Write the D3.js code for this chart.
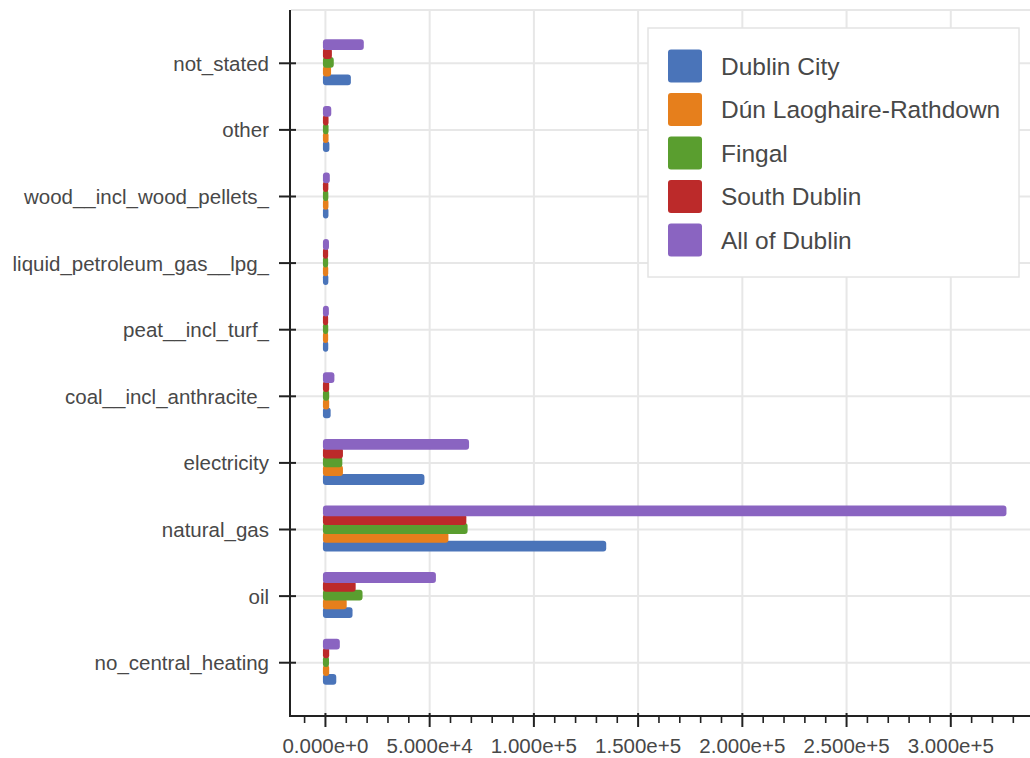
<!DOCTYPE html>
<html>
<head>
<meta charset="utf-8">
<script src="https://cdn.jsdelivr.net/npm/d3@7"></script>
<style>
  html, body { margin: 0; padding: 0; background: #fff; }
  svg { display: block; font-family: "Liberation Sans", Arial, Helvetica, sans-serif; }
</style>
</head>
<body>
<svg id="chart" width="1030" height="758"></svg>
<script>
// ---- data (categories listed bottom to top) ----
const categories = [
  "no_central_heating", "oil", "natural_gas", "electricity",
  "coal__incl_anthracite_", "peat__incl_turf_", "liquid_petroleum_gas__lpg_",
  "wood__incl_wood_pellets_", "other", "not_stated"
];
const seriesNames = ["Dublin City", "Dún Laoghaire-Rathdown", "Fingal", "South Dublin", "All of Dublin"];
const dublinCity   = [4000, 11800, 133500, 46300, 1300, 150, 200, 250, 700, 11000];
const dunLaoghaire = [600, 9000, 57800, 7200, 600, 100, 150, 250, 300, 1500];
const fingal       = [500, 16600, 67000, 6900, 600, 150, 100, 200, 300, 2800];
const southDublin  = [600, 13300, 66400, 7200, 600, 100, 100, 200, 300, 1900];
const allOfDublin  = [5700, 51800, 325500, 67700, 3100, 450, 500, 900, 1600, 17200];
const seriesValues = [dublinCity, dunLaoghaire, fingal, southDublin, allOfDublin];
const colors = ["#4a74b9", "#e67f1c", "#5a9e2f", "#bc2a2a", "#8a64c1"];
const majorTicks = [0, 50000, 100000, 150000, 200000, 250000, 300000];
const minorTicks = d3.range(-10000, 340000, 10000);

// ---- layout ----
const svg = d3.select("#chart");
const plotLeft = 290, plotRight = 1030, plotTop = 10, plotBottom = 716;

const x = d3.scaleLinear().domain([-17000, 338000]).range([plotLeft, plotRight]);
const y = d3.scalePoint().domain(categories).range([plotBottom, plotTop]).padding(0.8);

const gridColor = "#e7e7e7";
const axisColor = "#222";
const textColor = "#484848";

// grid
const grid = svg.append("g");
grid.selectAll("line.v").data(majorTicks).join("line")
  .attr("x1", d => x(d)).attr("x2", d => x(d))
  .attr("y1", plotTop).attr("y2", plotBottom)
  .attr("stroke", gridColor).attr("stroke-width", 2);
grid.selectAll("line.h").data(categories).join("line")
  .attr("x1", plotLeft + 1).attr("x2", plotRight)
  .attr("y1", d => y(d)).attr("y2", d => y(d))
  .attr("stroke", gridColor).attr("stroke-width", 2);
grid.append("line")
  .attr("x1", plotLeft + 1).attr("x2", plotRight).attr("y1", plotTop).attr("y2", plotTop)
  .attr("stroke", gridColor).attr("stroke-width", 2);

// bars
const barStep = 8.8, barH = 10.8, groupShift = -1;
const bars = svg.append("g");
seriesValues.forEach((vals, i) => {
  bars.selectAll("rect.s" + i).data(categories.map((c, j) => ({c, v: vals[j]}))).join("rect")
    .attr("class", "s" + i)
    .attr("x", x(0) - 2.5)
    .attr("width", d => x(d.v) - x(0) + 5)
    .attr("y", d => y(d.c) + groupShift + (2 - i) * barStep - barH / 2)
    .attr("height", barH)
    .attr("rx", 3).attr("ry", 3)
    .attr("fill", colors[i]);
});

// axes
const ax = svg.append("g");
ax.append("line").attr("x1", plotLeft).attr("x2", plotLeft).attr("y1", plotTop).attr("y2", plotBottom + 1)
  .attr("stroke", axisColor).attr("stroke-width", 2);
ax.append("line").attr("x1", plotLeft - 1).attr("x2", plotRight).attr("y1", plotBottom).attr("y2", plotBottom)
  .attr("stroke", axisColor).attr("stroke-width", 2);

// y ticks and labels
ax.selectAll("line.yt").data(categories).join("line")
  .attr("x1", plotLeft - 11).attr("x2", plotLeft + 6)
  .attr("y1", d => y(d)).attr("y2", d => y(d))
  .attr("stroke", axisColor).attr("stroke-width", 2);
ax.selectAll("text.yl").data(categories).join("text")
  .attr("x", plotLeft - 21).attr("y", d => y(d))
  .attr("text-anchor", "end").attr("dominant-baseline", "central")
  .attr("font-size", 20.5).attr("fill", textColor)
  .text(d => d);

// x ticks
ax.selectAll("line.xm").data(minorTicks.filter(t => t % 50000 !== 0)).join("line")
  .attr("x1", d => x(d)).attr("x2", d => x(d))
  .attr("y1", plotBottom).attr("y2", plotBottom + 7)
  .attr("stroke", axisColor).attr("stroke-width", 1.6);
ax.selectAll("line.xM").data(majorTicks).join("line")
  .attr("x1", d => x(d)).attr("x2", d => x(d))
  .attr("y1", plotBottom - 3).attr("y2", plotBottom + 11)
  .attr("stroke", axisColor).attr("stroke-width", 2);
const fmt = d3.format(".3e");
ax.selectAll("text.xl").data(majorTicks).join("text")
  .attr("x", d => x(d)).attr("y", 753)
  .attr("text-anchor", "middle")
  .attr("font-size", 20.5).attr("fill", textColor)
  .text(d => fmt(d));

// legend
const lg = svg.append("g");
lg.append("rect").attr("x", 648).attr("y", 28).attr("width", 371).attr("height", 249)
  .attr("fill", "#fff").attr("stroke", "#e4e4e4").attr("stroke-width", 1.5);
seriesNames.forEach((name, i) => {
  const cy = 66 + i * 43.5;
  lg.append("rect").attr("x", 668).attr("y", cy - 16.5).attr("width", 34).attr("height", 33)
    .attr("rx", 3).attr("fill", colors[i]);
  lg.append("text").attr("x", 721).attr("y", cy).attr("dominant-baseline", "central")
    .attr("font-size", 24.5).attr("fill", textColor).text(name);
});
</script>
</body>
</html>
